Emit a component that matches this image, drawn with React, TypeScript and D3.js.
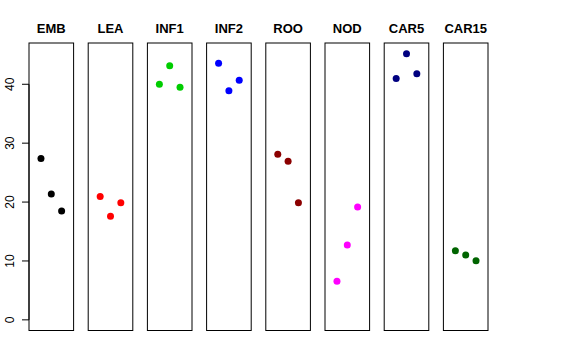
import React from "react";
import * as d3 from "d3";

const categories = ["EMB", "LEA", "INF1", "INF2", "ROO", "NOD", "CAR5", "CAR15"];
const colors = ["#000000", "#FF0000", "#00CD00", "#0000FF", "#8B0000", "#FF00FF", "#000080", "#006400"];
const values: number[][] = [
  [27.4, 21.35, 18.5],
  [20.95, 17.6, 19.9],
  [40.0, 43.15, 39.5],
  [43.55, 38.9, 40.7],
  [28.1, 26.95, 19.9],
  [6.55, 12.7, 19.15],
  [41.0, 45.2, 41.8],
  [11.75, 11.0, 10.05],
];
const yTicks = [0, 10, 20, 30, 40];

const W = 576;
const H = 360;
const left = 29;
const right = 488;
const top = 43;
const bottom = 330.5;
const panelW = 44.6;

export default function App() {
  const n = categories.length;
  const step = (right - left - panelW) / (n - 1);
  const ymax = 45.2;
  const ext = ymax * 0.04;
  const y = d3.scaleLinear().domain([-ext, ymax + ext]).range([bottom, top]);
  const xIn = d3.scaleLinear().domain([-0.16, 4.16]).range([0, panelW]);

  return (
    <svg
      width={W}
      height={H}
      style={{ position: "absolute", left: 0, top: 0, fontFamily: "'Liberation Sans', Arial, sans-serif" }}
    >
      <rect width={W} height={H} fill="white" />
      {categories.map((c, i) => {
        const x0 = left + i * step;
        return (
          <g key={c}>
            <rect x={x0} y={top} width={panelW} height={bottom - top} fill="none" stroke="#000" strokeWidth={1} />
            <text x={x0 + panelW / 2} y={33} textAnchor="middle" fontWeight="bold" fontSize={13}>
              {c}
            </text>
            {values[i].map((v, j) => (
              <circle key={j} cx={x0 + xIn(j + 1)} cy={y(v)} r={3.5} fill={colors[i]} />
            ))}
          </g>
        );
      })}
      <g>
        <line x1={left} x2={left} y1={y(0)} y2={y(40)} stroke="#000" />
        {yTicks.map((t) => (
          <g key={t}>
            <line x1={left - 7} x2={left} y1={y(t)} y2={y(t)} stroke="#000" />
            <text
              transform={`translate(${13.5},${y(t)}) rotate(-90)`}
              textAnchor="middle"
              fontSize={12}
            >
              {t}
            </text>
          </g>
        ))}
      </g>
    </svg>
  );
}
